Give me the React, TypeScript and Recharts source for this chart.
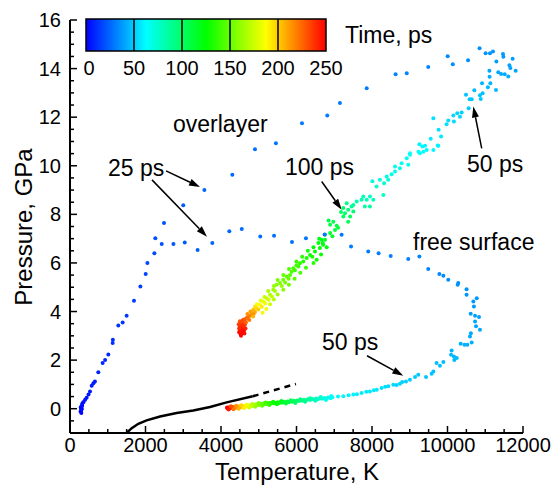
import { ScatterChart, Scatter, XAxis, YAxis, ReferenceLine } from "recharts";

const FONT = '"Liberation Sans", Arial, Helvetica, sans-serif';

// rows are [temperature K, pressure GPa, time ps]
const riseEarly = [
    [300, -0.18, 1], [280, -0.12, 1], [290, -0.08, 1.5], [305, -0.02, 1.5], [310, 0.0, 2],
    [285, 0.05, 2], [295, 0.08, 2.5], [315, 0.1, 2.5], [320, 0.15, 3], [330, 0.22, 3.5],
    [360, 0.28, 4], [400, 0.37, 4.5], [440, 0.45, 5], [490, 0.58, 5.5], [530, 0.71, 6],
    [575, 0.95, 6.5], [620, 1.05, 7], [660, 1.12, 7.5], [750, 1.5, 8], [865, 1.88, 9],
    [930, 2.0, 9.5], [1015, 2.23, 10], [1130, 2.7, 11], [1135, 2.84, 11.5], [1280, 3.43, 12.5],
    [1395, 3.55, 13], [1500, 3.83, 13.5], [1695, 4.44, 14.5], [1865, 5.03, 15.5], [2005, 5.54, 16.5],
    [2050, 6.0, 17], [2235, 6.4, 18], [2260, 7.02, 19],
];

const overlayerUp = [
    [2490, 7.64, 20], [3000, 8.37, 22], [3560, 9.0, 25], [4300, 9.63, 26.5], [4900, 10.68, 27.5],
    [5455, 10.93, 28.5], [6145, 11.75, 29.5], [6815, 12.07, 30], [7150, 12.58, 30.5], [7860, 13.19, 31],
    [8625, 13.77, 32], [8920, 13.81, 32.5], [9490, 14.07, 33], [10005, 14.51, 34], [10140, 14.18, 34.5],
    [10545, 14.34, 35], [10850, 14.84, 35.5], [11010, 14.63, 36], [11125, 14.63, 36.5], [11205, 14.7, 37],
    [11470, 14.6, 37.5], [11480, 14.49, 38], [11725, 14.4, 38.5], [11295, 14.29, 39], [11640, 14.14, 39.5],
    [11665, 14.02, 40], [11805, 13.91, 40.5], [11110, 13.91, 41], [11345, 13.85, 41.5], [11420, 13.78, 42],
    [11515, 13.77, 42.5], [11610, 13.67, 43], [11115, 13.66, 43.5], [11135, 13.4, 44], [10915, 13.4, 44.5],
    [11070, 13.23, 45], [11285, 13.12, 45.5], [10710, 13.11, 46], [10930, 12.99, 46.5], [10490, 12.92, 47],
    [10860, 12.9, 47.5], [10585, 12.74, 48], [10640, 12.74, 48.5], [10880, 12.75, 49],
];

const overlayerDown = [
    [10560, 12.37, 50], [10375, 12.19, 51], [10260, 12.16, 52], [10330, 12.02, 52.5], [10155, 12.07, 53],
    [10170, 11.82, 54], [10020, 11.86, 54.5], [9975, 11.71, 55], [9625, 11.96, 55.5], [9765, 11.48, 56],
    [9830, 11.2, 57], [9555, 11.11, 58], [9755, 10.82, 58.5], [9740, 10.83, 59], [9255, 10.89, 59.5],
    [9335, 10.79, 60], [9405, 10.82, 60.5], [9450, 10.65, 61], [9625, 10.65, 61.5], [9230, 10.58, 62],
    [9270, 10.52, 62.5], [9005, 10.52, 63], [9360, 10.58, 63.5], [9005, 10.45, 64], [8920, 10.31, 64.5],
    [8785, 10.1, 66], [8960, 10.04, 66.5], [8740, 9.9, 67], [8610, 9.97, 67.5], [8610, 9.76, 68],
    [8520, 9.65, 69], [8390, 9.56, 70], [8430, 9.42, 71], [8210, 9.42, 72], [8010, 9.36, 73],
    [8320, 9.28, 73.5], [8120, 9.15, 75], [8300, 8.8, 77], [7945, 8.73, 78], [8035, 8.6, 79],
    [7770, 8.73, 80], [7860, 8.6, 81], [7725, 8.6, 82], [7595, 8.53, 84], [7945, 8.32, 85],
    [7810, 8.32, 86], [7505, 8.39, 87], [7460, 8.32, 89], [7330, 8.46, 91], [7370, 8.19, 94],
    [7505, 8.12, 96], [7285, 8.05, 98], [7240, 8.26, 100], [7180, 8.1, 101], [7420, 7.91, 102],
    [7240, 7.91, 103], [7370, 7.7, 105],
];

const overlayerEnd = [
    [6975, 7.7, 106], [6890, 7.57, 108], [7065, 7.53, 109], [7020, 7.36, 111], [6890, 7.23, 113],
    [6755, 7.16, 115], [6755, 6.95, 117], [6665, 6.95, 118], [6695, 6.82, 119], [6580, 6.82, 121],
    [6705, 6.75, 122], [6620, 6.61, 124], [6490, 6.47, 126], [6535, 6.13, 128], [6360, 6.33, 129],
    [6270, 6.2, 131], [6420, 6.25, 132], [6180, 6.06, 134], [6090, 5.99, 136], [6000, 6.06, 137],
    [6050, 5.85, 139], [5915, 5.78, 141], [5960, 5.7, 142], [5870, 5.64, 144], [5830, 5.5, 146],
    [5740, 5.44, 148], [5790, 5.35, 150], [5650, 5.31, 152], [5700, 5.2, 154], [5565, 5.17, 156],
    [5475, 5.1, 158], [5610, 5.05, 160], [5385, 4.9, 163], [5430, 4.85, 165], [5300, 4.69, 168],
    [5350, 4.62, 171], [5210, 4.55, 174], [5260, 4.48, 177], [5120, 4.41, 181], [5170, 4.33, 184],
    [5030, 4.28, 188], [5080, 4.2, 192], [4945, 4.15, 196], [4990, 4.08, 200], [4855, 4.07, 204],
    [4900, 3.98, 208], [4810, 3.94, 212], [4860, 3.88, 215], [4770, 3.83, 218], [4720, 3.78, 221],
    [4680, 3.73, 224], [4640, 3.68, 227], [4590, 3.66, 229], [4620, 3.58, 231], [4545, 3.53, 233],
    [4590, 3.5, 235], [4635, 3.46, 237], [4560, 3.44, 239], [4500, 3.39, 241], [4580, 3.35, 243],
    [4530, 3.3, 244], [4590, 3.25, 245], [4500, 3.22, 246], [4545, 3.15, 247], [4560, 3.11, 248],
    [4610, 3.2, 249], [4520, 3.05, 250],
];

// extra scatter round the overlayer band, same time span
const overlayerSpread = [
    [7100, 7.45, 110], [6850, 7.75, 107], [6950, 7.1, 114], [6600, 7.0, 120], [6800, 6.65, 123],
    [6450, 6.65, 125], [6650, 6.35, 127], [6300, 6.5, 130], [6450, 6.0, 133], [6150, 6.25, 135],
    [6250, 5.8, 138], [6000, 5.9, 140], [6100, 5.6, 143], [5800, 5.75, 145], [5950, 5.35, 147],
    [5650, 5.5, 149], [5800, 5.1, 152], [5500, 5.3, 155], [5650, 4.9, 159], [5400, 5.05, 161],
    [5500, 4.7, 164], [5250, 4.85, 166], [5400, 4.5, 169], [5150, 4.6, 173], [5300, 4.3, 176],
    [5050, 4.45, 180], [5200, 4.1, 183], [4950, 4.3, 187], [5100, 3.95, 190], [4900, 4.2, 194],
    [4850, 3.8, 206], [4780, 4.0, 210], [4700, 3.9, 214], [4750, 3.65, 220], [4700, 3.7, 222],
    [4660, 3.55, 226], [4500, 3.6, 230], [4550, 3.6, 232], [4470, 3.48, 236], [4600, 3.4, 238],
    [4480, 3.3, 240], [4650, 3.3, 242], [4620, 3.1, 246], [4480, 3.15, 247], [4530, 3.0, 249],
];

const surfaceFlat = [
    [2430, 6.78, 20], [2740, 6.78, 21], [3040, 6.84, 22], [3380, 6.53, 23.5], [3770, 6.82, 25],
    [4220, 7.3, 26], [4550, 7.4, 26.5], [5040, 7.09, 27], [5405, 7.12, 27.5], [5880, 6.86, 28],
    [6250, 7.02, 28.5], [6745, 7.17, 29], [7195, 7.16, 29.5], [7445, 6.68, 30], [7900, 6.47, 30.5],
    [8175, 6.4, 31], [8495, 6.29, 31.5], [8960, 6.16, 32], [9255, 6.27, 32.5], [9490, 5.75, 33],
    [9785, 5.54, 33.5], [9890, 5.47, 34], [10020, 5.31, 34.5], [10285, 5.17, 35], [10270, 5.1, 35.5],
    [10505, 4.92, 36], [10505, 4.69, 36.5], [10775, 4.55, 37], [10685, 4.41, 37.5], [10700, 4.21, 38],
    [10615, 3.91, 38.5], [10730, 3.83, 39], [10835, 3.77, 39.5], [10730, 3.59, 40], [10755, 3.39, 40.5],
    [10860, 3.25, 41], [10620, 3.11, 41.5], [10595, 2.97, 42], [10640, 2.73, 42.5], [10525, 2.63, 43],
    [10350, 2.67, 43], [10450, 2.63, 43.5], [10110, 2.4, 44], [10095, 2.22, 44.5], [10170, 2.15, 45],
    [10245, 2.09, 45.5], [10180, 2.0, 45.5], [9890, 1.92, 46], [9710, 1.88, 46.5], [9800, 1.77, 47],
    [9625, 1.53, 47.5], [9580, 1.44, 48], [9430, 1.3, 48.5], [9225, 1.4, 49], [9140, 1.3, 49.5],
];

const surfaceBand = [
    [9005, 1.19, 50], [8900, 1.12, 51], [8800, 1.1, 51.5], [8740, 1.03, 52], [8650, 0.98, 52.5],
    [8565, 0.99, 53], [8430, 0.92, 54], [8350, 0.9, 54.5], [8255, 0.85, 55], [8125, 0.78, 56],
    [8050, 0.76, 56.5], [7945, 0.71, 57], [7850, 0.7, 57.5], [7725, 0.65, 58], [7600, 0.6, 58.5],
    [7505, 0.58, 59], [7380, 0.55, 59.5], [7240, 0.51, 60], [7100, 0.5, 61], [6950, 0.47, 62],
    [6900, 0.43, 64], [6840, 0.46, 66], [6790, 0.42, 68], [6730, 0.44, 70], [6680, 0.41, 72],
    [6620, 0.43, 74], [6570, 0.39, 76], [6520, 0.42, 78], [6460, 0.38, 80], [6410, 0.4, 82],
    [6360, 0.36, 84], [6300, 0.39, 86], [6250, 0.35, 88], [6200, 0.37, 90], [6160, 0.33, 92],
    [6110, 0.36, 94], [6070, 0.32, 96], [6020, 0.34, 98], [5980, 0.3, 100], [5930, 0.33, 102],
    [5890, 0.29, 104], [5840, 0.31, 106], [5800, 0.27, 108], [5760, 0.3, 110], [5710, 0.26, 112],
    [5670, 0.29, 114], [5630, 0.25, 116], [5580, 0.28, 118], [5540, 0.24, 120], [5500, 0.27, 122],
    [5460, 0.23, 124], [5420, 0.25, 126], [5390, 0.22, 128], [5350, 0.25, 130], [5320, 0.21, 132],
    [5290, 0.24, 134], [5260, 0.2, 136], [5230, 0.23, 138], [5200, 0.19, 140], [5170, 0.22, 142],
    [5140, 0.18, 144], [5110, 0.21, 146], [5080, 0.17, 148], [5060, 0.2, 150], [5030, 0.16, 152],
    [5000, 0.19, 154], [4980, 0.15, 156], [4950, 0.18, 158], [4930, 0.14, 160], [4900, 0.17, 162],
    [4880, 0.13, 164], [4860, 0.16, 166], [4840, 0.12, 168], [4820, 0.15, 170], [4800, 0.11, 172],
    [4780, 0.14, 174], [4760, 0.1, 176], [4740, 0.13, 178], [4720, 0.1, 180], [4700, 0.13, 182],
    [4680, 0.09, 184], [4660, 0.12, 186], [4640, 0.08, 188], [4620, 0.11, 190], [4600, 0.08, 192],
    [4580, 0.11, 194], [4560, 0.07, 196], [4540, 0.1, 198], [4520, 0.07, 200], [4500, 0.1, 202],
    [4480, 0.06, 204], [4460, 0.09, 206], [4440, 0.05, 208], [4420, 0.08, 210], [4400, 0.05, 212],
    [4385, 0.08, 214], [4370, 0.04, 216], [4355, 0.07, 218], [4340, 0.04, 220], [4325, 0.07, 222],
    [4310, 0.03, 224], [4295, 0.06, 226], [4280, 0.03, 228], [4265, 0.06, 230], [4250, 0.02, 232],
    [4240, 0.05, 234], [4230, 0.02, 236], [4220, 0.05, 238], [4210, 0.01, 240], [4200, 0.04, 242],
    [4190, 0.01, 244], [4180, 0.04, 246], [4170, 0.02, 248], [4160, 0.05, 250],
];

// extra scatter giving the lower band its thickness
const surfaceSpread = [
    [4200, -0.03, 244], [4260, 0.1, 231], [4330, -0.02, 221], [4400, 0.12, 212], [4470, 0.0, 205],
    [4540, 0.14, 198], [4610, 0.03, 191], [4680, 0.16, 184], [4750, 0.05, 177], [4830, 0.19, 169],
    [4910, 0.08, 161], [5000, 0.23, 154], [5090, 0.12, 147], [5180, 0.26, 141], [5280, 0.15, 134],
    [5380, 0.29, 128], [5480, 0.18, 123], [5600, 0.32, 117], [5720, 0.21, 111], [5850, 0.35, 105],
    [5970, 0.24, 100], [6100, 0.39, 94], [6230, 0.29, 89], [6360, 0.43, 84], [6500, 0.33, 79],
    [6640, 0.48, 74], [6780, 0.36, 69], [6920, 0.52, 64],
];

// melting curve [T, P]
const meltSolid = [
    [1500, -1.0], [1635, -0.8], [1810, -0.62], [2030, -0.48], [2385, -0.32],
    [2825, -0.18], [3265, -0.07], [3710, 0.07], [4150, 0.26], [4840, 0.51],
];
const meltDashed = [[4840, 0.51], [5985, 1.02]];

const xTicks = [
    0, 500, 1000, 1500, 2000, 2500, 3000, 3500, 4000, 4500, 5000, 5500, 6000,
    6500, 7000, 7500, 8000, 8500, 9000, 9500, 10000, 10500, 11000, 11500, 12000,
];
const yTicks = [
    -1, -0.5, 0, 0.5, 1, 1.5, 2, 2.5, 3, 3.5, 4, 4.5, 5, 5.5, 6, 6.5, 7, 7.5, 8,
    8.5, 9, 9.5, 10, 10.5, 11, 11.5, 12, 12.5, 13, 13.5, 14, 14.5, 15, 15.5, 16,
];
const barTicks = [0, 50, 100, 150, 200, 250];

// arrow annotations, data coords
const arrows = [
    { from: [2543, 9.79], to: [3444, 9.13] },
    { from: [2172, 9.42], to: [3629, 7.08] },
    { from: [6667, 9.35], to: [7197, 8.19] },
    { from: [10906, 10.72], to: [10684, 12.44] },
    { from: [7868, 2.18], to: [8829, 1.36] },
];

const STOPS = [
    [0, [0, 0, 255]],
    [62.5, [0, 255, 255]],
    [125, [0, 255, 0]],
    [187.5, [255, 255, 0]],
    [250, [255, 0, 0]],
];

const rainbow = (t) => {
    for (let i = 1; i < STOPS.length; i++) {
        const [t1, c1] = STOPS[i];
        const [t0, c0] = STOPS[i - 1];
        if (t <= t1) {
            const f = (t - t0) / (t1 - t0);
            const c = c0.map((v, k) => Math.round(v + (c1[k] - v) * f));
            return `rgb(${c[0]},${c[1]},${c[2]})`;
        }
    }
    return "rgb(255,0,0)";
};

const toPts = (rows) => rows.map(([T, P, t]) => ({ T, P, t }));
const toLine = (rows) => rows.map(([T, P]) => ({ T, P }));

const Dot = (props) => (
    <circle cx={props.cx} cy={props.cy} r={2} fill={rainbow(props.payload.t)} />
);

const XTick = ({ x, y, payload }) => {
    const v = payload.value;
    const major = v % 2000 === 0;
    return (
        <g>
            <line x1={x} y1={y} x2={x} y2={y - (major ? 7 : 4)} stroke="#000" strokeWidth={1.5} />
            {major && (
                <text x={x} y={y + 19} textAnchor="middle" fontSize={20} fontFamily={FONT} fill="#000">
                    {v}
                </text>
            )}
        </g>
    );
};

const YTick = ({ x, y, payload }) => {
    const v = payload.value;
    const major = v >= 0 && v % 2 === 0;
    return (
        <g>
            <line x1={x} y1={y} x2={x + (major ? 7 : 4)} y2={y} stroke="#000" strokeWidth={1.5} />
            {major && (
                <text x={x - 9} y={y + 7} textAnchor="end" fontSize={20} fontFamily={FONT} fill="#000">
                    {v}
                </text>
            )}
        </g>
    );
};

const Arrow = ({ x1, y1, x2, y2 }) => {
    const dx = x2 - x1;
    const dy = y2 - y1;
    const len = Math.hypot(dx, dy) || 1;
    const ux = dx / len;
    const uy = dy / len;
    const bx = x2 - ux * 11;
    const by = y2 - uy * 11;
    const hw = 3.5;
    return (
        <g>
            <line x1={x1} y1={y1} x2={bx} y2={by} stroke="#000" strokeWidth={1.5} />
            <polygon
                points={`${x2},${y2} ${bx - uy * hw},${by + ux * hw} ${bx + uy * hw},${by - ux * hw}`}
                fill="#000"
            />
        </g>
    );
};

const series = [
    riseEarly, overlayerUp, overlayerDown, overlayerEnd, overlayerSpread,
    surfaceFlat, surfaceBand, surfaceSpread,
];

const Overlay = () => {
    const barX = 86;
    const barW = 240;
    const step = barW / (barTicks.length - 1);
    const txt = { fontFamily: FONT, fontSize: 23, fill: "#000" };
    return (
        <svg width={558} height={487} style={{ position: "absolute", left: 0, top: 0, pointerEvents: "none" }}>
            <defs>
                <linearGradient id="rb" x1="0" y1="0" x2="1" y2="0">
                    <stop offset="0%" stopColor="rgb(0,0,255)" />
                    <stop offset="25%" stopColor="rgb(0,255,255)" />
                    <stop offset="50%" stopColor="rgb(0,255,0)" />
                    <stop offset="75%" stopColor="rgb(255,255,0)" />
                    <stop offset="100%" stopColor="rgb(255,0,0)" />
                </linearGradient>
            </defs>
            <rect x={barX} y={19} width={barW} height={32} fill="url(#rb)" stroke="#000" strokeWidth={1.5} />
            {barTicks.slice(1, -1).map((v, i) => (
                <line key={v} x1={barX + step * (i + 1)} y1={19} x2={barX + step * (i + 1)} y2={51} stroke="#000" strokeWidth={1.5} />
            ))}
            {barTicks.map((v, i) => (
                <text key={v} x={barX + step * i + (i === 0 ? 3 : 0)} y={75} textAnchor="middle" fontSize={20} fontFamily={FONT}>
                    {v}
                </text>
            ))}
            <text x={345} y={43} {...txt}>Time, ps</text>
            <text x={173} y={132} {...txt}>overlayer</text>
            <text x={108} y={176} {...txt}>25 ps</text>
            <text x={285} y={175} {...txt}>100 ps</text>
            <text x={467} y={172} {...txt}>50 ps</text>
            <text x={413} y={250} {...txt}>free surface</text>
            <text x={322} y={350} {...txt}>50 ps</text>
            <text x={297} y={480} textAnchor="middle" fontFamily={FONT} fontSize={24}>Temperature, K</text>
            <text
                x={32}
                y={227}
                textAnchor="middle"
                fontFamily={FONT}
                fontSize={24}
                transform="rotate(-90 32 227)"
            >
                Pressure, GPa
            </text>
        </svg>
    );
};

export default function App() {
    return (
        <div style={{ position: "absolute", left: 0, top: 0, width: 558, height: 487, background: "#fff" }}>
            <ScatterChart width={558} height={487} margin={{ top: 20, right: 35, bottom: 24, left: 10 }}>
                <XAxis
                    type="number"
                    dataKey="T"
                    domain={[0, 12000]}
                    ticks={xTicks}
                    interval={0}
                    tickSize={0}
                    tickMargin={0}
                    tickLine={false}
                    tick={(p) => <XTick {...p} />}
                    axisLine={{ stroke: "#000", strokeWidth: 2 }}
                    height={30}
                    allowDataOverflow
                />
                <YAxis
                    type="number"
                    dataKey="P"
                    domain={[-1, 16]}
                    ticks={yTicks}
                    interval={0}
                    tickSize={0}
                    tickMargin={0}
                    tickLine={false}
                    tick={(p) => <YTick {...p} />}
                    axisLine={{ stroke: "#000", strokeWidth: 2 }}
                    width={60}
                    allowDataOverflow
                />
                <Scatter
                    data={toLine(meltSolid)}
                    fill="#000"
                    line={{ stroke: "#000", strokeWidth: 2.5 }}
                    shape={() => <g />}
                    isAnimationActive={false}
                />
                <Scatter
                    data={toLine(meltDashed)}
                    fill="#000"
                    line={{ stroke: "#000", strokeWidth: 2.5, strokeDasharray: "6 5" }}
                    shape={() => <g />}
                    isAnimationActive={false}
                />
                {series.map((rows, i) => (
                    <Scatter key={i} data={toPts(rows)} shape={Dot} isAnimationActive={false} />
                ))}
                {arrows.map((a, i) => (
                    <ReferenceLine
                        key={i}
                        segment={[{ x: a.from[0], y: a.from[1] }, { x: a.to[0], y: a.to[1] }]}
                        shape={(p) => <Arrow {...p} />}
                    />
                ))}
            </ScatterChart>
            <Overlay />
        </div>
    );
}
